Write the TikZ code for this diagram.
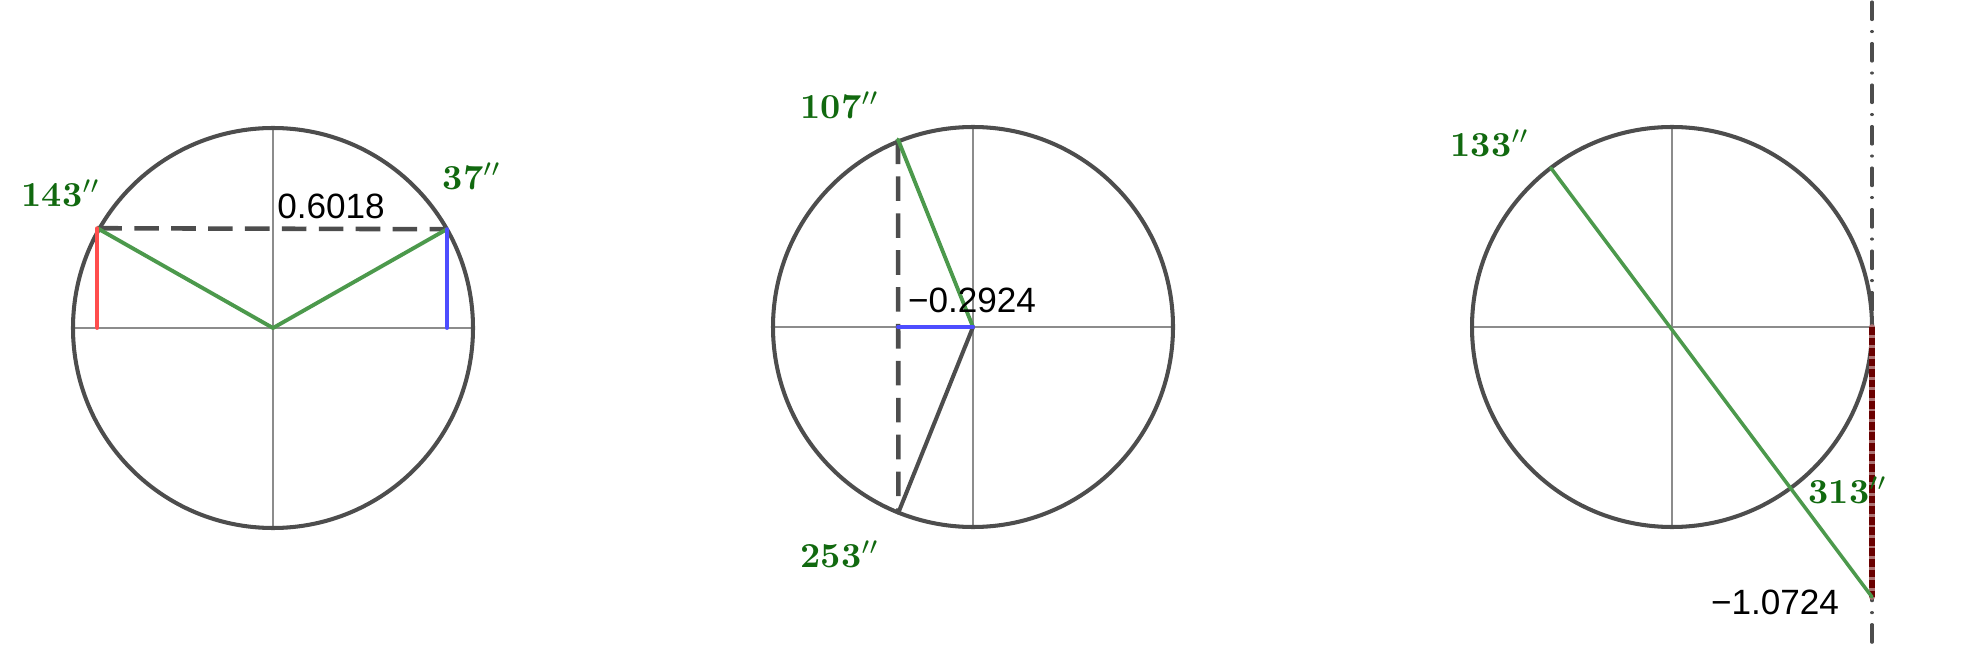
\documentclass[tikz,border=0pt]{standalone}
\usepackage{fontspec}
\newfontfamily\numfont{Liberation Sans}
\usepackage{tikz}
\usetikzlibrary{arrows}
\usetikzlibrary{positioning}
\definecolor{circgray}{HTML}{4D4D4D}
\definecolor{axisgray}{HTML}{8C8C8C}
\definecolor{radgreen}{HTML}{4C994C}
\definecolor{labgreen}{HTML}{11690F}
\definecolor{sinred}{HTML}{FF4D4D}
\definecolor{cosblue}{HTML}{4D4DFF}
\definecolor{tanred}{HTML}{6A0000}
\tikzset{
  rim/.style={line width=1.15pt,circgray},
  axisline/.style={line width=0.6pt,axisgray},
  radius line/.style={line width=1.1pt,radgreen},
  chord/.style={line width=1.3pt,circgray,line cap=butt,dash pattern=on 7pt off 3.5pt},
  red leg/.style={line width=1.1pt,sinred},
  blue leg/.style={line width=1.1pt,cosblue},
  tangent/.style={line width=0.9pt,circgray,dash pattern=on 5pt off 3.4pt on 0.01pt off 3.4pt},
  angle label/.style={text=labgreen,font=\bfseries,inner sep=0pt},
  value label/.style={font=\numfont,inner sep=0pt}
}

\begin{document}
\begin{tikzpicture}[line cap=round]

  \useasboundingbox (0,0) rectangle (19.86,6.52);



  \begin{scope}[shift={(2.73,3.24)}]
  \coordinate (O1) at (0,0);
  \coordinate (A1) at (29.6:2);
  \coordinate (B1) at (150.4:2.02);

  \draw [axisline] (-1.98,0) -- (1.98,0);
  \draw [axisline] (0,-2) -- (0,2);
  \draw [rim] (O1) circle (2);

  \draw [chord] (B1) -- (A1);
  \draw [radius line] (B1) -- (O1) -- (A1);
  \draw [red leg] (B1) -- (B1 |- O1);
  \draw [blue leg] (A1) -- (A1 |- O1);

  \draw (-2.12,1.35) node [angle label] (l143) {143$''$};
  \draw (1.99,1.52) node [angle label] (l37) {37$''$};
  \draw (0.58,1.22) node [value label] (v1) {0.6018};
  \end{scope}



  \begin{scope}[shift={(9.73,3.25)}]
  \coordinate (O2) at (0,0);
  \coordinate (A2) at (111.8:2.02);
  \coordinate (B2) at (248.1:2);

  \draw [axisline] (-2,0) -- (2,0);
  \draw [axisline] (0,-2) -- (0,2);
  \draw [rim] (O2) circle (2);

  \draw [chord] (A2) -- (B2);
  \draw [radius line] (A2) -- (O2);
  \draw [rim] (O2) -- (B2);
  \draw [blue leg] (A2 |- O2) -- (O2);

  \draw (-1.33,2.22) node [angle label] (l107) {107$''$};
  \draw (-1.33,-2.27) node [angle label] (l253) {253$''$};
  \draw (-0.01,0.27) node [value label] (v2) {−0.2924};
  \end{scope}



  \begin{scope}[shift={(16.72,3.25)}]
  \coordinate (O3) at (0,0);
  \coordinate (A3) at (127.3:2);
  \coordinate (T3) at (2,-2.70);
  \coordinate (E3) at (2,0);
  \coordinate (top3) at (2,3.25);
  \coordinate (bot3) at (2,-3.27);

  \draw [axisline] (-2,0) -- (2,0);
  \draw [axisline] (0,-2) -- (0,2);
  \draw [rim] (O3) circle (2);

  \draw [tangent] (top3) -- (bot3);
  \draw [line width=1.6pt,tanred!55] (E3) -- (T3);
  \draw [line width=1.6pt,tanred,line cap=butt,dash pattern=on 2.2pt off 0.8pt] (E3) -- (T3);
  \draw [radius line,line width=1pt] (A3) -- (T3);

  \draw (-1.82,1.84) node [angle label] (l133) {133$''$};
  \draw (1.76,-1.63) node [angle label] (l313) {313$''$};
  \draw (1.03,-2.75) node [value label] (v3) {−1.0724};
  \end{scope}

\end{tikzpicture}
\end{document}
